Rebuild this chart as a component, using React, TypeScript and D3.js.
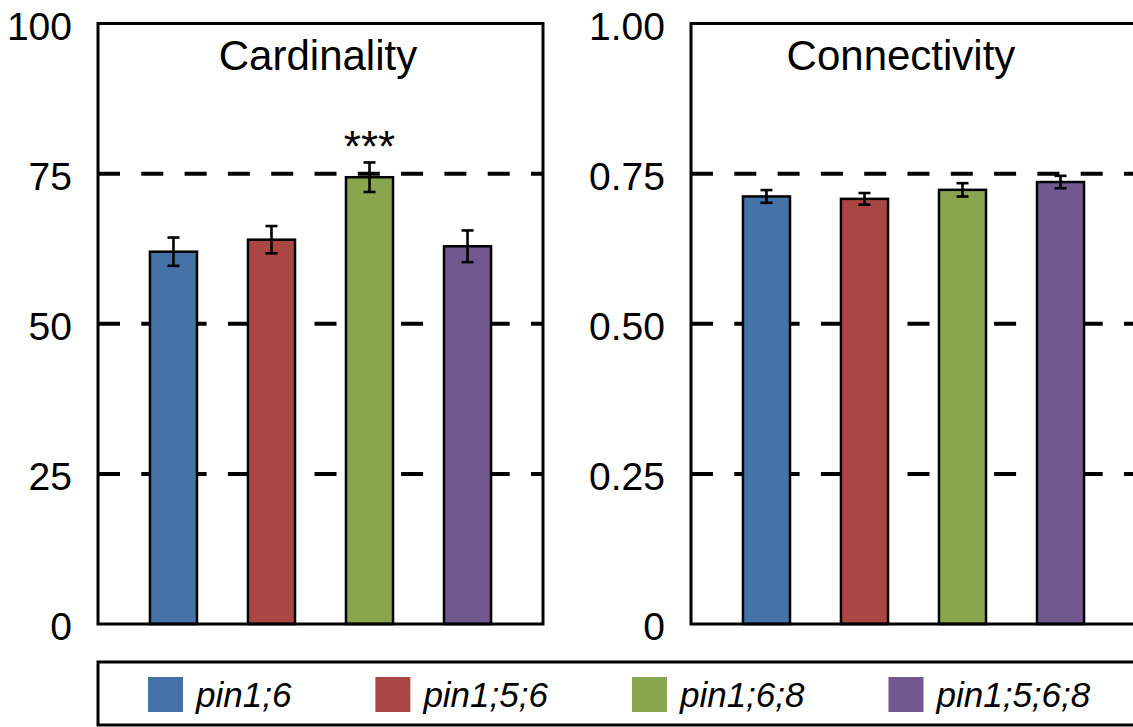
import React, { useEffect, useRef } from 'react';
import * as d3 from 'd3';

// ---- data ----
const genotypes = ['pin1;6', 'pin1;5;6', 'pin1;6;8', 'pin1;5;6;8'];
const colors = ['#4572A7', '#AA4643', '#89A54E', '#71588F'];

const cardinalityMean = [62.0, 64.0, 74.4, 62.9];
const cardinalityErr = [2.36, 2.27, 2.46, 2.64];
const cardinalitySig = ['', '', '***', ''];
const cardinalityTicks = [0, 25, 50, 75, 100];
const cardinalityTickLabels = ['0', '25', '50', '75', '100'];

const connectivityMean = [0.712, 0.708, 0.723, 0.736];
const connectivityErr = [0.0106, 0.0097, 0.0111, 0.0103];
const connectivitySig = ['', '', '', ''];
const connectivityTicks = [0, 0.25, 0.5, 0.75, 1];
const connectivityTickLabels = ['0', '0.25', '0.50', '0.75', '1.00'];

const FONT = '"Liberation Sans", Arial, Helvetica, sans-serif';

interface Panel {
  title: string;
  mean: number[];
  err: number[];
  sig: string[];
  ticks: number[];
  tickLabels: string[];
  x: number;
  titleDx: number;
}

const panels: Panel[] = [
  { title: 'Cardinality', mean: cardinalityMean, err: cardinalityErr, sig: cardinalitySig, ticks: cardinalityTicks, tickLabels: cardinalityTickLabels, x: 98, titleDx: 220 },
  { title: 'Connectivity', mean: connectivityMean, err: connectivityErr, sig: connectivitySig, ticks: connectivityTicks, tickLabels: connectivityTickLabels, x: 691, titleDx: 210 },
];

const W = 1133;
const H = 727;
const frameTop = 23.5;
const frameBottom = 624;
const frameW = 445;

export default function App() {
  const ref = useRef<SVGSVGElement | null>(null);

  useEffect(() => {
    document.body.style.margin = '0';
    const svg = d3.select(ref.current);
    svg.selectAll('*').remove();
    svg.append('rect').attr('width', W).attr('height', H).attr('fill', '#fff');

    panels.forEach((p) => {
      const maxV = p.ticks[p.ticks.length - 1];
      const y = d3.scaleLinear().domain([0, maxV]).range([frameBottom, frameTop]);
      const x = d3
        .scaleBand<string>()
        .domain(genotypes)
        .range([p.x, p.x + frameW])
        .paddingInner(0.52)
        .paddingOuter(0.53);
      const g = svg.append('g');

      // dashed reference lines at interior ticks
      g.selectAll('line.dash')
        .data(p.ticks.slice(1, -1))
        .join('line')
        .attr('x1', p.x)
        .attr('x2', p.x + frameW)
        .attr('y1', (d) => y(d))
        .attr('y2', (d) => y(d))
        .attr('stroke', '#000')
        .attr('stroke-width', 4)
        .attr('stroke-dasharray', '22 21.3');

      // bars
      g.selectAll('rect.bar')
        .data(genotypes)
        .join('rect')
        .attr('x', (d) => x(d)!)
        .attr('width', x.bandwidth())
        .attr('y', (_d, i) => y(p.mean[i]))
        .attr('height', (_d, i) => frameBottom - y(p.mean[i]))
        .attr('fill', (_d, i) => colors[i])
        .attr('stroke', '#000')
        .attr('stroke-width', 2.5);

      // error bars
      genotypes.forEach((gname, i) => {
        const cx = x(gname)! + x.bandwidth() / 2;
        const hi = y(p.mean[i] + p.err[i]);
        const lo = y(p.mean[i] - p.err[i]);
        const eg = g.append('g').attr('stroke', '#000').attr('stroke-width', 2.6);
        eg.append('line').attr('x1', cx).attr('x2', cx).attr('y1', hi).attr('y2', lo);
        eg.append('line').attr('x1', cx - 6).attr('x2', cx + 6).attr('y1', hi).attr('y2', hi);
        eg.append('line').attr('x1', cx - 6).attr('x2', cx + 6).attr('y1', lo).attr('y2', lo);
        if (p.sig[i]) {
          g.append('text')
            .attr('x', cx)
            .attr('y', hi)
            .attr('text-anchor', 'middle')
            .attr('font-family', FONT)
            .attr('font-size', 44)
            .attr('fill', '#000')
            .text(p.sig[i]);
        }
      });

      // frame
      g.append('rect')
        .attr('x', p.x)
        .attr('y', frameTop)
        .attr('width', frameW)
        .attr('height', frameBottom - frameTop)
        .attr('fill', 'none')
        .attr('stroke', '#000')
        .attr('stroke-width', 3);

      // tick labels
      g.selectAll('text.tick')
        .data(p.ticks)
        .join('text')
        .attr('x', p.x - 26)
        .attr('y', (d) => y(d) + 16)
        .attr('text-anchor', 'end')
        .attr('font-family', FONT)
        .attr('font-size', 39)
        .attr('fill', '#000')
        .text((_d, i) => p.tickLabels[i]);

      // title
      g.append('text')
        .attr('x', p.x + p.titleDx)
        .attr('y', 70)
        .attr('text-anchor', 'middle')
        .attr('font-family', FONT)
        .attr('font-size', 42)
        .attr('fill', '#000')
        .text(p.title);
    });

    // legend
    const lg = svg.append('g');
    lg.append('rect')
      .attr('x', 98)
      .attr('y', 662)
      .attr('width', 1060)
      .attr('height', 63)
      .attr('fill', '#fff')
      .attr('stroke', '#000')
      .attr('stroke-width', 3);
    let cursor = 148;
    genotypes.forEach((gname, i) => {
      lg.append('rect')
        .attr('x', cursor)
        .attr('y', 677)
        .attr('width', 35)
        .attr('height', 35)
        .attr('fill', colors[i]);
      const t = lg
        .append('text')
        .attr('x', cursor + 48)
        .attr('y', 707)
        .attr('font-family', FONT)
        .attr('font-size', 35)
        .attr('font-style', 'italic')
        .attr('fill', '#000')
        .text(gname);
      const tw = (t.node() as SVGTextElement).getComputedTextLength();
      cursor = cursor + 48 + tw + 84;
    });
  }, []);

  return <svg ref={ref} width={W} height={H} style={{ display: 'block' }} />;
}
